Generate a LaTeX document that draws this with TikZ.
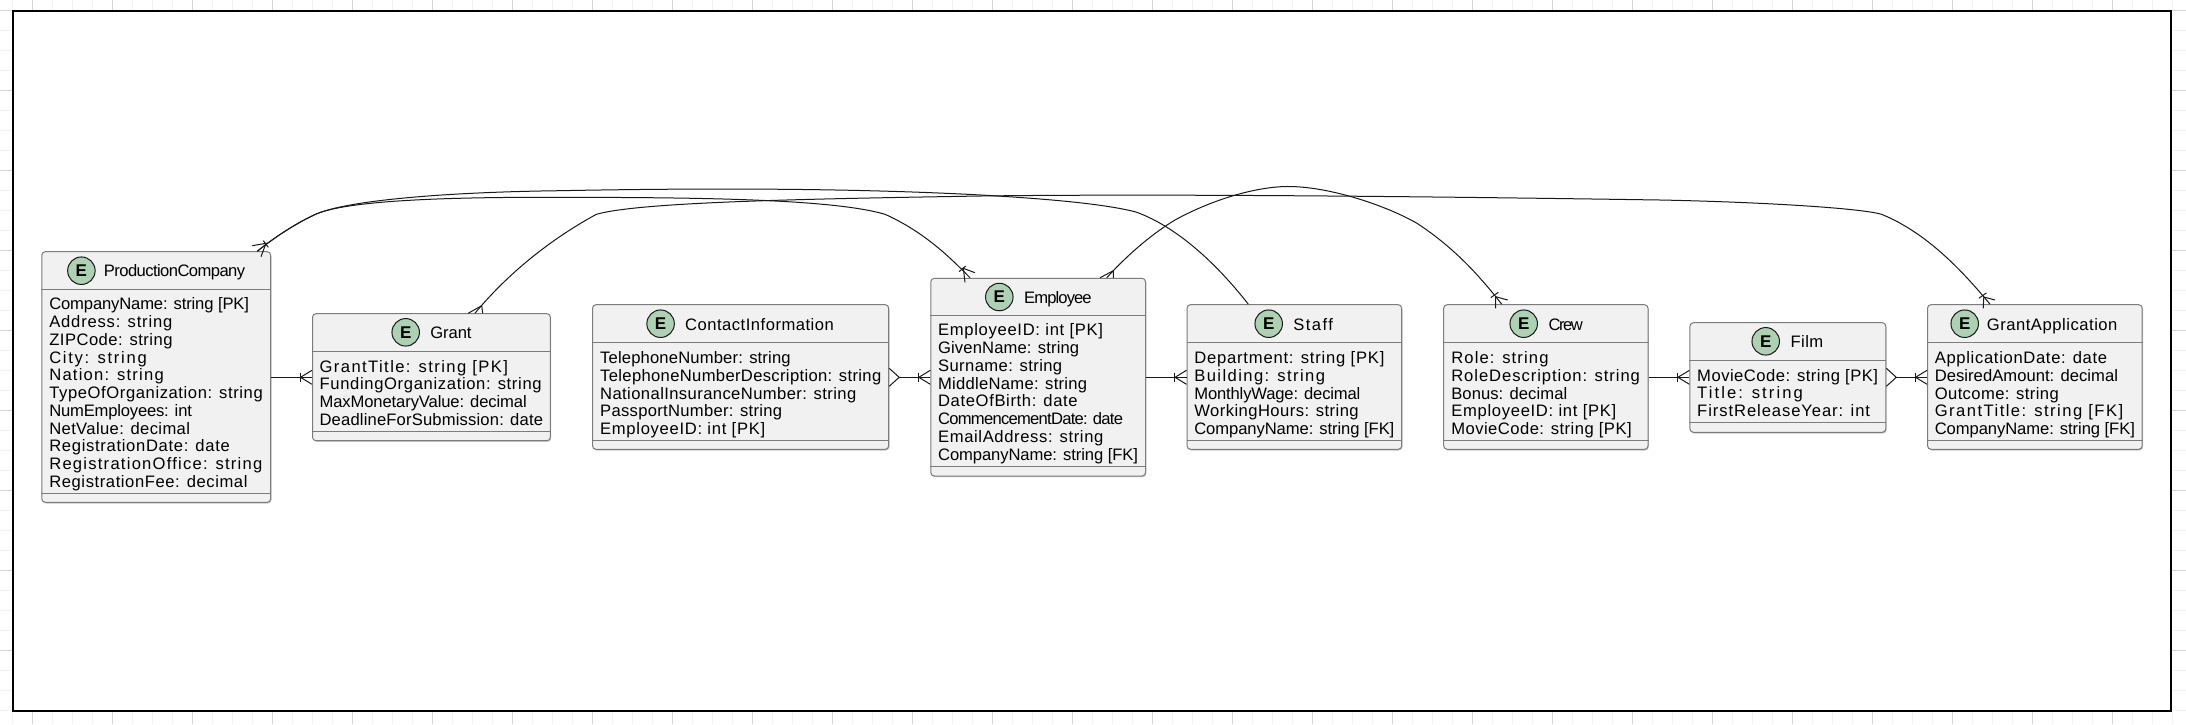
\documentclass[tikz,border=0pt]{standalone}
\usepackage{fontspec}
\usepackage{xstring}
\setmainfont{Liberation Sans}
\usetikzlibrary{shadows}
\definecolor{boxfill}{HTML}{F1F1F1}
\definecolor{boxline}{HTML}{7C7C7C}
\definecolor{circfill}{HTML}{ADD1B2}
\definecolor{inkline}{HTML}{181818}
\definecolor{tickmajor}{HTML}{D6D6D6}
\definecolor{tickminor}{HTML}{F2F2F2}
\newsavebox{\flbox}
\newcommand\fl[2]{%
  \sbox{\flbox}{#2}%
  \StrLen{#2}[\fln]%
  \StrCount{#2}{ }[\flsp]%
  \pgfmathsetmacro\flls{(#1-\the\wd\flbox)/(\fln-\flsp)/16.6*100}%
  {\addfontfeature{LetterSpace=\flls}#2}}
\tikzset{
  ent/.style={draw=boxline,fill=boxfill,line width=1pt,rounded corners=3.5pt,inner sep=0pt,
    general shadow={fill=black!22,shadow xshift=0.8pt,shadow yshift=-1.2pt}},
  divline/.style={draw=boxline,line width=1pt},
  attrs/.style={inner sep=0pt,outer sep=0pt,align=left,anchor=base west,text=black,
    font=\fontsize{16.6}{17.75}\selectfont},
  ttl/.style={inner sep=0pt,outer sep=0pt,anchor=base west,text=black,font=\fontsize{16.6}{18}\selectfont},
  badge/.style={circle,draw=inkline,fill=circfill,line width=1pt,minimum size=27.5pt,inner sep=0pt,
    font=\fontsize{17}{17}\selectfont\bfseries,text=black},
  conn/.style={draw=inkline,line width=1pt},
}
\newcommand\entbox[7]{%
  \node[ent,minimum width={(#4-#2)*1pt},minimum height={(#5-#3)*1pt}] (#1) at ({(#2+#4)/2},{(#3+#5)/2}) {};
  \draw[divline] (#1.west |- 0,#6) -- (#1.east |- 0,#6);
  \draw[divline] (#1.west |- 0,#7) -- (#1.east |- 0,#7);}
\newcommand\enthead[7]{%
  \node[badge] (#1b) at (#2,#3) {E};
  \node[ttl] (#1t) at (#4,#5) {\fl{#6}{#7}};}
\newcommand\crowin[2]{%
  \coordinate (tip) at (#1.west |- 0,#2);
  \draw[conn] ([yshift=7pt]tip) -- ([xshift=-11.5pt]tip) -- ([yshift=-7pt]tip);
  \draw[conn] ([xshift=-12pt,yshift=4.7pt]tip) -- ([xshift=-12pt,yshift=-4.7pt]tip);}
\newcommand\crowout[2]{%
  \coordinate (tip) at (#1.east |- 0,#2);
  \draw[conn] ([yshift=9pt]tip) -- ([xshift=10pt]tip) -- ([yshift=-9pt]tip);}
\begin{document}
\begin{tikzpicture}[x=1pt,y=-1pt]
\useasboundingbox (0,0) rectangle (2186,724);
% page grid that shows round the frame
\foreach \k in {0,...,108}{
  \pgfmathtruncatemacro\gx{12+20*\k}
  \pgfmathtruncatemacro\mj{mod(\k,4)==1}
  \ifnum\mj=1 \def\gc{tickmajor}\else\def\gc{tickminor}\fi
  \draw[\gc,line width=1pt] (\gx,0) -- (\gx,10);
  \draw[\gc,line width=1pt] (\gx,712) -- (\gx,724);
}
\foreach \k in {0,...,35}{
  \pgfmathtruncatemacro\gy{10+20*\k}
  \pgfmathtruncatemacro\mj{mod(\k,4)==0}
  \ifnum\mj=1 \def\gc{tickmajor}\else\def\gc{tickminor}\fi
  \draw[\gc,line width=1pt] (0,\gy) -- (12,\gy);
  \draw[\gc,line width=1pt] (2172,\gy) -- (2186,\gy);
}
\draw[black,line width=2pt,fill=white] (13,11) rectangle (2171,711);

% entities
\entbox{pc}{41.8}{251.7}{270.7}{502.3}{289}{493.3}
\enthead{pc}{81.4}{270.7}{103.9}{276.7}{140.7}{ProductionCompany}
\node[attrs] (pca) at (49.3,487.3) {\fl{199.6}{CompanyName: string [PK]}\\\fl{123.6}{Address: string}\\\fl{123.6}{ZIPCode: string}\\\fl{98.6}{City: string}\\\fl{115.4}{Nation: string}\\\fl{213.9}{TypeOfOrganization: string}\\\fl{142.5}{NumEmployees: int}\\\fl{141}{NetValue: decimal}\\\fl{181}{RegistrationDate: date}\\\fl{213.9}{RegistrationOffice: string}\\\fl{198.6}{RegistrationFee: decimal}};

\entbox{grant}{312.5}{313.7}{550.4}{440.7}{351.7}{431.3}
\enthead{grant}{405.7}{332.3}{430.4}{338.3}{41}{Grant}
\node[attrs] (granta) at (319.6,425.3) {\fl{189.3}{GrantTitle: string [PK]}\\\fl{222.5}{FundingOrganization: string}\\\fl{207.1}{MaxMonetaryValue: decimal}\\\fl{223.6}{DeadlineForSubmission: date}};

\entbox{ci}{592.5}{304.7}{888.7}{449.3}{342.3}{440.3}
\enthead{ci}{660.6}{323.7}{685.1}{330}{149.3}{ContactInformation}
\node[attrs] (cia) at (600.2,434.7) {\fl{190.6}{TelephoneNumber: string}\\\fl{281.3}{TelephoneNumberDescription: string}\\\fl{256.4}{NationalInsuranceNumber: string}\\\fl{182.2}{PassportNumber: string}\\\fl{165.7}{EmployeeID: int [PK]}};

\entbox{emp}{930.8}{278.3}{1145.5}{476}{315.7}{466.3}
\enthead{emp}{999.3}{297}{1024.2}{303.3}{66.6}{Employee}
\node[attrs] (empa) at (938.1,460) {\fl{165.7}{EmployeeID: int [PK]}\\\fl{141.2}{GivenName: string}\\\fl{124.4}{Surname: string}\\\fl{149.3}{MiddleName: string}\\\fl{140}{DateOfBirth: date}\\\fl{184.5}{CommencementDate: date}\\\fl{165.7}{EmailAddress: string}\\\fl{199.8}{CompanyName: string [FK]}};

\entbox{staff}{1187}{304.7}{1401.7}{449.3}{342.3}{440.3}
\enthead{staff}{1268.7}{323.7}{1293.3}{330}{41}{Staff}
\node[attrs] (staffa) at (1194.3,434.7) {\fl{190.7}{Department: string [PK]}\\\fl{131.7}{Building: string}\\\fl{166}{MonthlyWage: decimal}\\\fl{164.7}{WorkingHours: string}\\\fl{200}{CompanyName: string [FK]}};

\entbox{crew}{1443.7}{304.7}{1648}{449.3}{342.3}{440.3}
\enthead{crew}{1523.7}{323.7}{1548.7}{330}{32.6}{Crew}
\node[attrs] (crewa) at (1451.3,434.7) {\fl{98}{Role: string}\\\fl{189.3}{RoleDescription: string}\\\fl{116}{Bonus: decimal}\\\fl{165.7}{EmployeeID: int [PK]}\\\fl{180.7}{MovieCode: string [PK]}};

\entbox{film}{1689.9}{322.7}{1885.8}{432.3}{360.3}{422.7}
\enthead{film}{1765.7}{341.3}{1790.5}{347.7}{33.3}{Film}
\node[attrs] (filma) at (1697.2,416.7) {\fl{181.2}{MovieCode: string [PK]}\\\fl{107}{Title: string}\\\fl{173.5}{FirstReleaseYear: int}};

\entbox{ga}{1927.5}{304.7}{2142.2}{449.3}{342.3}{440.3}
\enthead{ga}{1964.7}{323.7}{1986.8}{330}{131.2}{GrantApplication}
\node[attrs] (gaa) at (1934.8,434.7) {\fl{172.8}{ApplicationDate: date}\\\fl{183.2}{DesiredAmount: decimal}\\\fl{124.2}{Outcome: string}\\\fl{189.3}{GrantTitle: string [FK]}\\\fl{200}{CompanyName: string [FK]}};

% straight connectors
\draw[conn] (pc.east |- 0,377.3) -- (grant.west |- 0,377.3);
\crowin{grant}{377.3}
\draw[conn] ([xshift=10pt]ci.east |- 0,377.3) -- (emp.west |- 0,377.3);
\crowout{ci}{377.3}
\crowin{emp}{377.3}
\draw[conn] (emp.east |- 0,377.3) -- (staff.west |- 0,377.3);
\crowin{staff}{377.3}
\draw[conn] (crew.east |- 0,377.3) -- (film.west |- 0,377.3);
\crowin{film}{377.3}
\draw[conn] ([xshift=10pt]film.east |- 0,377.3) -- (ga.west |- 0,377.3);
\crowout{film}{377.3}
\crowin{ga}{377.3}

% ProductionCompany -- Employee
\draw[conn] (pc.north -| 257.3,0) .. controls (275,237) and (295,224) .. (314,215)
  .. controls (345,200) and (450,197) .. (560,197.3)
  .. controls (680,197.5) and (830,198) .. (885,214.3)
  .. controls (920,230) and (945,252) .. (emp.north -| 970,0);
% ProductionCompany -- Staff
\draw[conn] (pc.north -| 257.3,0) .. controls (275,237) and (295,224) .. (314,215)
  .. controls (345,200) and (450,192) .. (560,190.7)
  .. controls (700,188) and (850,188) .. (981,195)
  .. controls (1050,199) and (1105,204) .. (1136,212)
  .. controls (1180,228) and (1220,268) .. (staff.north -| 1248.3,0);
% Grant -- GrantApplication
\draw[conn] (grant.north -| 475,0) .. controls (500,283) and (540,245) .. (596.4,214.3)
  .. controls (640,202) and (800,199) .. (981,196)
  .. controls (1100,194.5) and (1300,194.5) .. (1660,200)
  .. controls (1760,202) and (1860,208) .. (1881.5,214.3)
  .. controls (1925,232) and (1960,268) .. (ga.north -| 1990,0);
% Employee -- Crew
\draw[conn] (emp.north -| 1106.7,0) .. controls (1130,252) and (1155,232) .. (1175,220)
  .. controls (1215,198) and (1260,186) .. (1290,186.5)
  .. controls (1330,187) and (1385,205) .. (1417,223.3)
  .. controls (1450,245) and (1475,270) .. (crew.north -| 1501.7,0);

% crow's feet on the curved connectors
\draw[conn] (252.3,245.7) -- (266,243.3) -- (261,256.7);
\draw[conn] (263.3,240.7) -- (268.3,247.3);
\draw[conn] (grant.north -| 468.3,0) -- (481.7,305.7) -- (grant.north -| 482.7,0);
\draw[conn] (emp.north -| 1100,0) -- (1113.3,270.7) -- (emp.north -| 1113.3,0);
\draw[conn] (975,272.7) -- (963.3,268.3) -- (965,282.3);
\draw[conn] (959,271.7) -- (965.7,266);
\draw[conn] (1507.7,300) -- (1495.7,296.7) -- (1495.7,308.3);
\draw[conn] (1490.7,297.7) -- (1498.3,292.3);
\draw[conn] (1995,300) -- (1983.8,297) -- (1983.2,308.3);
\draw[conn] (1978.8,298.3) -- (1986.4,292.9);
\end{tikzpicture}
\end{document}
